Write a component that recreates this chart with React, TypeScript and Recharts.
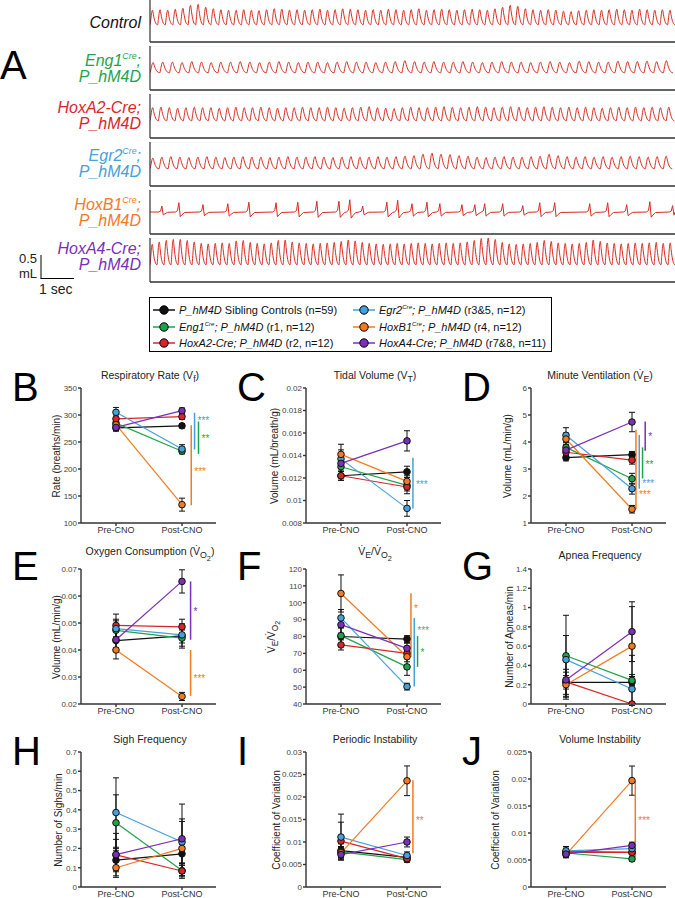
import React from "react";
import {
  CartesianGrid,
  ErrorBar,
  Line,
  LineChart,
  ReferenceDot,
  ReferenceLine,
  XAxis,
  YAxis,
} from "recharts";

const FONT = "'Liberation Sans', Arial, Helvetica, sans-serif";
const TRACE_RED = "#d9291f";
// order: sibling controls, Eng1, HoxA2, Egr2, HoxB1, HoxA4
const groupColors = ["#111111", "#1fa34a", "#d7262b", "#45a1dc", "#f47a1f", "#7b2fb6"];

// ---- panel A: plethysmography traces (peak volume per breath, mL) ----
const traceSeconds = 15.45;
const breathShape = [0, 0.4, 0.85, 1, 0.7, 0.42, 0.22, 0.09, 0.03];

const controlPeriod = 0.224;
const controlPeaks = [
  0.3, 0.31, 0.3, 0.32, 0.34, 0.4, 0.42, 0.36, 0.33, 0.31,
  0.3, 0.3, 0.31, 0.3, 0.29, 0.31, 0.33, 0.32, 0.3, 0.31,
  0.3, 0.31, 0.32, 0.3, 0.31, 0.33, 0.32, 0.31, 0.3, 0.31,
  0.3, 0.32, 0.31, 0.3, 0.31, 0.33, 0.3, 0.31, 0.32, 0.31,
  0.3, 0.31, 0.32, 0.31, 0.3, 0.33, 0.36, 0.4, 0.38, 0.33,
  0.31, 0.3, 0.31, 0.3, 0.28, 0.27, 0.29, 0.3, 0.31, 0.3,
  0.31, 0.32, 0.31, 0.3, 0.32, 0.31, 0.3, 0.31, 0.3,
];

const eng1Period = 0.285;
const eng1Peaks = [
  0.21, 0.22, 0.22, 0.21, 0.23, 0.22, 0.21, 0.22, 0.22, 0.23,
  0.22, 0.21, 0.22, 0.23, 0.22, 0.21, 0.22, 0.22, 0.21, 0.22,
  0.23, 0.22, 0.22, 0.21, 0.22, 0.23, 0.25, 0.23, 0.22, 0.23,
  0.22, 0.22, 0.23, 0.22, 0.21, 0.22, 0.23, 0.22, 0.22, 0.21,
  0.22, 0.23, 0.22, 0.21, 0.24, 0.23, 0.22, 0.22, 0.24, 0.23,
  0.23, 0.24, 0.23, 0.25,
];

const hoxA2Period = 0.245;
const hoxA2Peaks = [
  0.27, 0.28, 0.27, 0.26, 0.27, 0.28, 0.27, 0.27, 0.26, 0.27,
  0.28, 0.27, 0.27, 0.28, 0.27, 0.26, 0.27, 0.27, 0.28, 0.27,
  0.27, 0.28, 0.27, 0.26, 0.27, 0.28, 0.29, 0.27, 0.26, 0.25,
  0.27, 0.28, 0.27, 0.27, 0.28, 0.29, 0.28, 0.27, 0.28, 0.29,
  0.28, 0.27, 0.28, 0.29, 0.28, 0.27, 0.28, 0.29, 0.28, 0.27,
  0.28, 0.27, 0.28, 0.27, 0.26, 0.27, 0.28, 0.27, 0.28, 0.27,
  0.28, 0.27, 0.28,
];

const egr2Period = 0.265;
const egr2Peaks = [
  0.22, 0.24, 0.25, 0.24, 0.23, 0.24, 0.25, 0.24, 0.23, 0.24,
  0.25, 0.24, 0.24, 0.23, 0.24, 0.25, 0.24, 0.24, 0.25, 0.24,
  0.23, 0.24, 0.25, 0.24, 0.24, 0.25, 0.24, 0.25, 0.26, 0.27,
  0.3, 0.32, 0.3, 0.29, 0.27, 0.26, 0.24, 0.23, 0.24, 0.25,
  0.24, 0.24, 0.25, 0.26, 0.3, 0.27, 0.25, 0.24, 0.25, 0.24,
  0.25, 0.24, 0.25, 0.26, 0.25, 0.24, 0.25, 0.26,
];

const hoxB1Baseline = 0.1;
const hoxB1SpikeTimes = [
  0.35, 0.85, 1.56, 2.29, 2.91, 3.71, 4.35, 4.91, 5.56, 5.88,
  6.26, 6.97, 7.29, 7.71, 8.15, 8.53, 9.18, 9.56, 9.85, 10.38,
  10.97, 11.47, 11.91, 12.94, 13.47, 14.03, 14.71, 15.38,
];
const hoxB1SpikeHeights = [
  0.12, 0.19, 0.15, 0.17, 0.2, 0.19, 0.2, 0.22, 0.22, 0.25,
  0.12, 0.2, 0.24, 0.17, 0.2, 0.17, 0.15, 0.15, 0.17, 0.17,
  0.13, 0.19, 0.19, 0.17, 0.19, 0.15, 0.21, 0.13,
];
const spikeShape = [
  [-0.1, 0],
  [-0.04, 0.15],
  [0, 1],
  [0.04, -0.5],
  [0.09, -0.3],
  [0.17, -0.05],
];

const hoxA4Period = 0.206;
const hoxA4Peaks = [
  0.42, 0.47, 0.5, 0.52, 0.52, 0.5, 0.47, 0.44, 0.43, 0.44,
  0.45, 0.44, 0.49, 0.5, 0.46, 0.44, 0.43, 0.45, 0.5, 0.51,
  0.47, 0.45, 0.44, 0.43, 0.44, 0.45, 0.46, 0.48, 0.51, 0.49,
  0.46, 0.44, 0.43, 0.42, 0.43, 0.44, 0.43, 0.44, 0.45, 0.44,
  0.43, 0.44, 0.45, 0.44, 0.45, 0.47, 0.5, 0.54, 0.55, 0.52,
  0.46, 0.43, 0.42, 0.43, 0.44, 0.46, 0.5, 0.48, 0.45, 0.44,
  0.43, 0.44, 0.46, 0.51, 0.48, 0.45, 0.44, 0.43, 0.44, 0.45,
  0.44, 0.45, 0.46, 0.44, 0.45,
];

function breathTrace(peaks: number[], period: number) {
  const pts: { t: number; v: number }[] = [];
  peaks.forEach((amp, i) =>
    breathShape.forEach((s, k) => pts.push({ t: (i + k / breathShape.length) * period, v: amp * s }))
  );
  pts.push({ t: peaks.length * period, v: 0 });
  return pts;
}

function spikeTrace(times: number[], heights: number[], base: number) {
  const pts = [{ t: 0, v: base }];
  times.forEach((t0, i) =>
    spikeShape.forEach(([dt, f]) => {
      const t = t0 + dt;
      if (t > 0 && t < traceSeconds) pts.push({ t, v: base + f * heights[i] });
    })
  );
  pts.push({ t: traceSeconds, v: base });
  return pts;
}

const traceRows = [
  { bottom: 42, data: breathTrace(controlPeaks, controlPeriod), curve: "monotone" },
  { bottom: 90, data: breathTrace(eng1Peaks, eng1Period), curve: "monotone" },
  { bottom: 138, data: breathTrace(hoxA2Peaks, hoxA2Period), curve: "monotone" },
  { bottom: 186, data: breathTrace(egr2Peaks, egr2Period), curve: "monotone" },
  { bottom: 234, data: spikeTrace(hoxB1SpikeTimes, hoxB1SpikeHeights, hoxB1Baseline), curve: "linear" },
  { bottom: 282, data: breathTrace(hoxA4Peaks, hoxA4Period), curve: "monotone" },
];
const traceTicks = [0, 2, 4, 6, 8, 10, 12, 14];
const traceYTicks = [-0.35, -0.135, 0.08, 0.295, 0.51];
const traceGridX = Array.from({ length: 31 }, (_, i) => i * 0.5);

// ---- panels B-J: group means, pre / post CNO ----
const ratePre = [276, 285, 293, 305, 282, 277];
const ratePost = [280, 233, 297, 237, 134, 308];
const ratePreErr = [6, 8, 7, 9, 8, 6];
const ratePostErr = [4, 5, 5, 8, 12, 5];

const tidalPre = [0.0122, 0.013, 0.0122, 0.0137, 0.0141, 0.0133];
const tidalPost = [0.01255, 0.01135, 0.0112, 0.0093, 0.0117, 0.0153];
const tidalPreErr = [0.0004, 0.0006, 0.0004, 0.0008, 0.0009, 0.0007];
const tidalPostErr = [0.0005, 0.0005, 0.0006, 0.0007, 0.0005, 0.0009];

const minutePre = [3.42, 3.8, 3.62, 4.25, 4.11, 3.7];
const minutePost = [3.53, 2.64, 3.33, 2.27, 1.51, 4.74];
const minutePreErr = [0.12, 0.2, 0.15, 0.28, 0.22, 0.2];
const minutePostErr = [0.12, 0.2, 0.15, 0.2, 0.14, 0.36];

const oxygenPre = [0.0435, 0.0473, 0.0491, 0.0479, 0.04, 0.0438];
const oxygenPost = [0.0452, 0.0444, 0.0486, 0.0456, 0.0228, 0.0654];
const oxygenPreErr = [0.0035, 0.0035, 0.0042, 0.0035, 0.0033, 0.003];
const oxygenPostErr = [0.0045, 0.003, 0.0028, 0.003, 0.0015, 0.0043];

const ratioPre = [80, 80.5, 75, 91, 105.5, 87];
const ratioPost = [78.5, 62, 70, 50.3, 68, 73];
const ratioPreErr = [5, 5, 3, 5, 11, 5];
const ratioPostErr = [2, 5, 3, 2, 3, 3];

const apneaPre = [0.225, 0.5, 0.23, 0.46, 0.2, 0.25];
const apneaPost = [0.225, 0.245, 0, 0.155, 0.6, 0.75];
const apneaPreErr = [0.07, 0.42, 0.13, 0.25, 0.13, 0.2];
const apneaPostErr = [0.06, 0.26, 0, 0.15, 0.41, 0.31];

const sighPre = [0.139, 0.333, 0.167, 0.386, 0.1, 0.168];
const sighPost = [0.172, 0.085, 0.083, 0.233, 0.2, 0.25];
const sighPreErr = [0.06, 0.145, 0.08, 0.18, 0.05, 0.11];
const sighPostErr = [0.05, 0.04, 0.03, 0.12, 0.14, 0.18];

const periodicPre = [0.0081, 0.0078, 0.0102, 0.0111, 0.0076, 0.0072];
const periodicPost = [0.0066, 0.0061, 0.0063, 0.007, 0.0236, 0.01];
const periodicPreErr = [0.0015, 0.0012, 0.0042, 0.0051, 0.0012, 0.001];
const periodicPostErr = [0.0008, 0.0006, 0.0007, 0.0008, 0.0033, 0.0011];

const volumePre = [0.0065, 0.0063, 0.0064, 0.0067, 0.006, 0.0061];
const volumePost = [0.0064, 0.0052, 0.0064, 0.0071, 0.0197, 0.0077];
const volumePreErr = [0.0007, 0.0006, 0.0006, 0.0008, 0.0006, 0.0006];
const volumePostErr = [0.0004, 0.0004, 0.0004, 0.0005, 0.0027, 0.0006];

// significance brackets: group index, x position, span, stars and where they sit
const rateSig = [
  { g: 4, x: 1.14, y1: 281, y2: 133, stars: "***", sy: 199 },
  { g: 3, x: 1.19, y1: 304, y2: 236, stars: "***", sy: 293 },
  { g: 1, x: 1.25, y1: 288, y2: 228, stars: "**", sy: 260 },
];
const tidalSig = [{ g: 3, x: 1.09, y1: 0.0138, y2: 0.0093, stars: "***", sy: 0.0116 }];
const minuteSig = [
  { g: 4, x: 1.06, y1: 4.45, y2: 1.52, stars: "***", sy: 2.14 },
  { g: 3, x: 1.11, y1: 4.26, y2: 2.27, stars: "***", sy: 2.53 },
  { g: 1, x: 1.16, y1: 3.8, y2: 2.65, stars: "**", sy: 3.24 },
  { g: 5, x: 1.2, y1: 4.76, y2: 3.68, stars: "*", sy: 4.27 },
];
const oxygenSig = [
  { g: 5, x: 1.13, y1: 0.0654, y2: 0.0438, stars: "*", sy: 0.0549 },
  { g: 4, x: 1.13, y1: 0.04, y2: 0.023, stars: "***", sy: 0.0302 },
];
const ratioSig = [
  { g: 4, x: 1.06, y1: 105.6, y2: 67.8, stars: "*", sy: 97.9 },
  { g: 3, x: 1.11, y1: 91, y2: 50.4, stars: "***", sy: 84.6 },
  { g: 1, x: 1.16, y1: 80.2, y2: 62, stars: "*", sy: 71.6 },
];
const periodicSig = [{ g: 4, x: 1.09, y1: 0.0237, y2: 0.0075, stars: "**", sy: 0.0152 }];
const volumeSig = [{ g: 4, x: 1.05, y1: 0.0196, y2: 0.0055, stars: "***", sy: 0.0126 }];

const V = "V\u0307";
const supStyle: React.CSSProperties = { fontSize: "0.55em", verticalAlign: "0.75em", lineHeight: 0 };
const Cre = () => <span style={supStyle}>Cre</span>;

const panels = [
  {
    letter: "B", col: 0, row: 0, labelX: 57,
    title: <>Respiratory Rate (V<sub>f</sub>)</>, yLabel: <>Rate (breaths/min)</>,
    pre: ratePre, post: ratePost, preErr: ratePreErr, postErr: ratePostErr,
    domain: [100, 350], ticks: [100, 150, 200, 250, 300, 350], sig: rateSig,
  },
  {
    letter: "C", col: 1, row: 0, labelX: 50,
    title: <>Tidal Volume (V<sub>T</sub>)</>, yLabel: <>Volume (mL/breath/g)</>,
    pre: tidalPre, post: tidalPost, preErr: tidalPreErr, postErr: tidalPostErr,
    domain: [0.008, 0.02], ticks: [0.008, 0.01, 0.012, 0.014, 0.016, 0.018, 0.02], sig: tidalSig,
  },
  {
    letter: "D", col: 2, row: 0, labelX: 58,
    title: <>Minute Ventilation ({V}<sub>E</sub>)</>, yLabel: <>Volume (mL/min/g)</>,
    pre: minutePre, post: minutePost, preErr: minutePreErr, postErr: minutePostErr,
    domain: [1, 6], ticks: [1, 2, 3, 4, 5, 6], sig: minuteSig,
  },
  {
    letter: "E", col: 0, row: 1, labelX: 57,
    title: <>Oxygen Consumption ({V}<sub>O<sub>2</sub></sub>)</>, yLabel: <>Volume (mL/min/g)</>,
    pre: oxygenPre, post: oxygenPost, preErr: oxygenPreErr, postErr: oxygenPostErr,
    domain: [0.02, 0.07], ticks: [0.02, 0.03, 0.04, 0.05, 0.06, 0.07], sig: oxygenSig,
  },
  {
    letter: "F", col: 1, row: 1, labelX: 50,
    title: <>{V}<sub>E</sub>/{V}<sub>O<sub>2</sub></sub></>, yLabel: <>{V}<sub>E</sub>/{V}<sub>O<sub>2</sub></sub></>,
    pre: ratioPre, post: ratioPost, preErr: ratioPreErr, postErr: ratioPostErr,
    domain: [40, 120], ticks: [40, 50, 60, 70, 80, 90, 100, 110, 120], sig: ratioSig,
  },
  {
    letter: "G", col: 2, row: 1, labelX: 60,
    title: <>Apnea Frequency</>, yLabel: <>Number of Apneas/min</>,
    pre: apneaPre, post: apneaPost, preErr: apneaPreErr, postErr: apneaPostErr,
    domain: [0, 1.4], ticks: [0, 0.2, 0.4, 0.6, 0.8, 1, 1.2, 1.4], sig: [],
  },
  {
    letter: "H", col: 0, row: 2, labelX: 59,
    title: <>Sigh Frequency</>, yLabel: <>Number of Sighs/min</>,
    pre: sighPre, post: sighPost, preErr: sighPreErr, postErr: sighPostErr,
    domain: [0, 0.7], ticks: [0, 0.1, 0.2, 0.3, 0.4, 0.5, 0.6, 0.7], sig: [],
  },
  {
    letter: "I", col: 1, row: 2, labelX: 52,
    title: <>Periodic Instability</>, yLabel: <>Coefficient of Variation</>,
    pre: periodicPre, post: periodicPost, preErr: periodicPreErr, postErr: periodicPostErr,
    domain: [0, 0.03], ticks: [0, 0.005, 0.01, 0.015, 0.02, 0.025, 0.03], sig: periodicSig,
  },
  {
    letter: "J", col: 2, row: 2, labelX: 46,
    title: <>Volume Instability</>, yLabel: <>Coefficient of Variation</>,
    pre: volumePre, post: volumePost, preErr: volumePreErr, postErr: volumePostErr,
    domain: [0, 0.025], ticks: [0, 0.005, 0.01, 0.015, 0.02, 0.025], sig: volumeSig,
  },
];

const rowTops = [355, 536, 719];
const titleYs = [377, 555, 739];
const letterTops = [367, 546, 731];
const xDomain = [-0.53, 1.515];

const legendItems = [
  { g: 0, col: 0, row: 0, label: <><i>P_hM4D</i> Sibling Controls (n=59)</> },
  { g: 1, col: 0, row: 1, label: <><i>Eng1<Cre />; P_hM4D</i> (r1, n=12)</> },
  { g: 2, col: 0, row: 2, label: <><i>HoxA2-Cre; P_hM4D</i> (r2, n=12)</> },
  { g: 3, col: 1, row: 0, label: <><i>Egr2<Cre />; P_hM4D</i> (r3&amp;5, n=12)</> },
  { g: 4, col: 1, row: 1, label: <><i>HoxB1<Cre />; P_hM4D</i> (r4, n=12)</> },
  { g: 5, col: 1, row: 2, label: <><i>HoxA4-Cre; P_hM4D</i> (r7&amp;8, n=11)</> },
];

const rowLabels = [
  { y: 23, color: "#111", lines: [<>Control</>] },
  { y: 61, color: "#1fa34a", lines: [<>Eng1<Cre />;</>, <>P_hM4D</>] },
  { y: 108, color: "#d7262b", lines: [<>HoxA2-Cre;</>, <>P_hM4D</>] },
  { y: 156, color: "#45a1dc", lines: [<>Egr2<Cre />;</>, <>P_hM4D</>] },
  { y: 205, color: "#f47a1f", lines: [<>HoxB1<Cre />;</>, <>P_hM4D</>] },
  { y: 249, color: "#7b2fb6", lines: [<>HoxA4-Cre;</>, <>P_hM4D</>] },
];

function TraceRow({ data, bottom, curve }: any) {
  return (
    <div style={{ position: "absolute", left: 145, top: bottom - 44 }}>
      <LineChart width={530} height={49} data={data} margin={{ top: 0, right: 0, bottom: 0, left: 0 }}>
        <CartesianGrid stroke="#d6eef5" strokeWidth={0.8} verticalValues={traceGridX} />
        <XAxis
          type="number"
          dataKey="t"
          domain={[0, traceSeconds]}
          ticks={traceTicks}
          tick={false}
          tickSize={4}
          height={5}
          stroke="#333"
          strokeWidth={1.5}
          allowDataOverflow
        />
        <YAxis
          type="number"
          domain={[-0.35, 0.55]}
          ticks={traceYTicks}
          tick={false}
          tickSize={3}
          width={5}
          stroke="#333"
          strokeWidth={1.2}
          allowDataOverflow
        />
        <Line type={curve} dataKey="v" stroke={TRACE_RED} strokeWidth={1} dot={false} isAnimationActive={false} />
      </LineChart>
    </div>
  );
}

function Panel({ p }: any) {
  const left = p.col * 225;
  const top = rowTops[p.row];
  const series = groupColors.map((_, i) => [
    { x: 0, y: p.pre[i], e: p.preErr[i] },
    { x: 1, y: p.post[i], e: p.postErr[i] },
  ]);
  return (
    <div style={{ position: "absolute", left, top }}>
      <LineChart width={225} height={185} margin={{ top: 33, right: 9, bottom: 0, left: 0 }}>
        <XAxis
          type="number"
          dataKey="x"
          domain={xDomain}
          ticks={[0, 1]}
          tickFormatter={(v: number) => (v === 0 ? "Pre-CNO" : "Post-CNO")}
          allowDataOverflow
          height={17}
          tickSize={3}
          tickMargin={1}
          stroke="#333"
          strokeWidth={1.4}
          tick={{ fontSize: 9, fill: "#333", fontFamily: FONT }}
        />
        <YAxis
          type="number"
          domain={p.domain}
          ticks={p.ticks}
          allowDataOverflow
          width={81}
          tickSize={3}
          tickMargin={1}
          stroke="#333"
          strokeWidth={1.4}
          tick={{ fontSize: 8, fill: "#444", fontFamily: FONT }}
        />
        {series.map((d, i) => (
          <Line
            key={"l" + i}
            data={d}
            dataKey="y"
            type="linear"
            stroke={groupColors[i]}
            strokeWidth={1.2}
            dot={false}
            activeDot={false}
            isAnimationActive={false}
          />
        ))}
        {series.map((d, i) => (
          <Line
            key={"e" + i}
            data={d}
            dataKey="y"
            stroke="none"
            dot={false}
            activeDot={false}
            isAnimationActive={false}
          >
            <ErrorBar dataKey="e" direction="y" width={3} stroke="#111" strokeWidth={1} />
          </Line>
        ))}
        {series.map((d, i) => (
          <Line
            key={"d" + i}
            data={d}
            dataKey="y"
            stroke="none"
            dot={{ r: 3.3, fill: groupColors[i], stroke: "#111", strokeWidth: 1 }}
            activeDot={false}
            isAnimationActive={false}
          />
        ))}
        {p.sig.map((s: any, i: number) => (
          <ReferenceLine
            key={"s" + i}
            segment={[
              { x: s.x, y: s.y1 },
              { x: s.x, y: s.y2 },
            ]}
            stroke={groupColors[s.g]}
            strokeWidth={1.5}
            ifOverflow="visible"
          />
        ))}
        {p.sig.map((s: any, i: number) => (
          <ReferenceDot
            key={"t" + i}
            x={s.x}
            y={s.sy}
            r={0}
            stroke="none"
            fill="none"
            ifOverflow="visible"
            label={(lp: any) => (
              <text
                x={lp.viewBox.x + 3}
                y={lp.viewBox.y + 5.5}
                fill={groupColors[s.g]}
                fontSize={10}
                fontFamily={FONT}
              >
                {s.stars}
              </text>
            )}
          />
        ))}
      </LineChart>
    </div>
  );
}

function LegendMarker({ color }: { color: string }) {
  return (
    <svg width={22} height={12} style={{ position: "absolute", left: 0, top: 0 }}>
      <line x1={0} y1={6} x2={22} y2={6} stroke={color} strokeWidth={1.5} />
      <circle cx={11} cy={6} r={4.2} fill={color} stroke="#000" strokeWidth={1} />
    </svg>
  );
}

export default function App() {
  return (
    <div
      style={{
        position: "absolute",
        left: 0,
        top: 0,
        width: 675,
        height: 898,
        overflow: "hidden",
        background: "#fff",
        fontFamily: FONT,
        color: "#222",
      }}
    >
      {/* panel A */}
      <div style={{ position: "absolute", left: 0, top: 45, fontSize: 40, lineHeight: "40px", color: "#000" }}>A</div>
      {traceRows.map((r, i) => (
        <TraceRow key={i} data={r.data} bottom={r.bottom} curve={r.curve} />
      ))}
      {rowLabels.map((r, i) => (
        <div
          key={i}
          style={{
            position: "absolute",
            right: 675 - 141,
            top: r.y - 8,
            fontSize: 16,
            lineHeight: "15.5px",
            fontStyle: "italic",
            color: r.color,
            textAlign: "right",
            whiteSpace: "nowrap",
          }}
        >
          {r.lines.map((l, k) => (
            <div key={k}>{l}</div>
          ))}
        </div>
      ))}
      <svg width={80} height={40} style={{ position: "absolute", left: 0, top: 250 }}>
        <line x1={41} y1={5} x2={41} y2={28.5} stroke="#000" strokeWidth={1} />
        <line x1={40.5} y1={28.5} x2={74} y2={28.5} stroke="#000" strokeWidth={1} />
      </svg>
      <div style={{ position: "absolute", right: 675 - 37, top: 251.5, fontSize: 13, lineHeight: "13px" }}>0.5</div>
      <div style={{ position: "absolute", right: 675 - 37, top: 266.5, fontSize: 13, lineHeight: "13px" }}>mL</div>
      <div style={{ position: "absolute", left: 39, top: 282, fontSize: 14, lineHeight: "14px" }}>1 sec</div>

      {/* legend */}
      <div
        style={{
          position: "absolute",
          left: 149,
          top: 297,
          width: 403,
          height: 55,
          border: "1px solid #000",
          boxSizing: "border-box",
        }}
      />
      {legendItems.map((it, i) => (
        <div
          key={i}
          style={{
            position: "absolute",
            left: it.col === 0 ? 153 : 353,
            top: 304 + it.row * 16.5,
            height: 12,
            fontSize: 11,
            lineHeight: "12px",
            whiteSpace: "nowrap",
            color: "#111",
          }}
        >
          <LegendMarker color={groupColors[it.g]} />
          <span style={{ position: "absolute", left: 26, top: 0 }}>{it.label}</span>
        </div>
      ))}

      {/* panels B-J */}
      {panels.map((p) => (
        <Panel key={p.letter} p={p} />
      ))}
      {panels.map((p) => (
        <React.Fragment key={"c" + p.letter}>
          <div
            style={{
              position: "absolute",
              left: p.col * 225 + 12,
              top: letterTops[p.row],
              fontSize: 40,
              lineHeight: "40px",
              color: "#000",
            }}
          >
            {p.letter}
          </div>
          <div
            style={{
              position: "absolute",
              left: p.col * 225 + 150,
              top: titleYs[p.row],
              transform: "translate(-50%, -50%)",
              fontSize: 10.5,
              lineHeight: "12px",
              whiteSpace: "nowrap",
              color: "#222",
            }}
          >
            {p.title}
          </div>
          <div
            style={{
              position: "absolute",
              left: p.col * 225 + p.labelX,
              top: rowTops[p.row] + 33 + 67.5,
              transform: "translate(-50%, -50%) rotate(-90deg)",
              fontSize: 10,
              lineHeight: "12px",
              whiteSpace: "nowrap",
              color: "#222",
            }}
          >
            {p.yLabel}
          </div>
        </React.Fragment>
      ))}
    </div>
  );
}
